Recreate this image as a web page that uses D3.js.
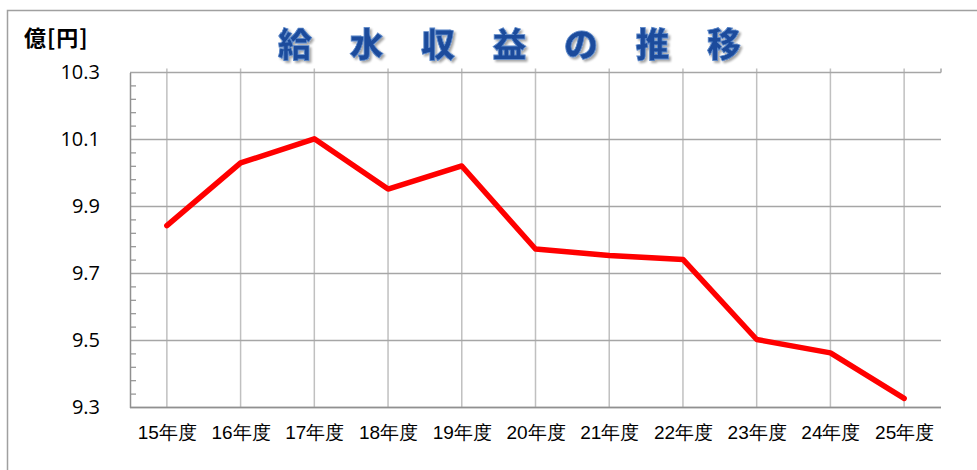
<!DOCTYPE html>
<html>
<head>
<meta charset="utf-8">
<script src="https://cdn.jsdelivr.net/npm/d3@7"></script>
<style>
  body { margin: 0; background: #fff; }
  svg { display: block; font-family: "Noto Sans CJK JP", "Noto Sans", sans-serif; }
</style>
</head>
<body>
<svg id="chart" width="977" height="470"></svg>
<script>
// data
const years = ["15年度", "16年度", "17年度", "18年度", "19年度", "20年度",
               "21年度", "22年度", "23年度", "24年度", "25年度"];
const revenue = [9.843, 10.030, 10.102, 9.952, 10.021, 9.773,
                 9.754, 9.742, 9.503, 9.463, 9.327];
const yTicks = [9.3, 9.5, 9.7, 9.9, 10.1, 10.3];
const titleChars = ["給", "水", "収", "益", "の", "推", "移"];

const width = 977, height = 470;
const margin = {top: 72.5, right: 36, bottom: 62.5, left: 130};

const svg = d3.select("#chart");

// outer frame
svg.append("path")
    .attr("d", "M7.5," + height + "V10.5H" + width)
    .attr("fill", "none")
    .attr("stroke", "#a0a0a0")
    .attr("stroke-width", 1.5);

const x = d3.scalePoint()
    .domain(years)
    .range([margin.left, width - margin.right])
    .padding(0.5);

const y = d3.scaleLinear()
    .domain([9.3, 10.3])
    .range([height - margin.bottom, margin.top]);

// vertical gridlines (poke a bit above the top)
svg.append("g")
    .selectAll("line")
    .data(years)
    .enter().append("line")
    .attr("x1", d => x(d)).attr("x2", d => x(d))
    .attr("y1", margin.top - 4).attr("y2", height - margin.bottom)
    .attr("stroke", "#c0c0c0")
    .attr("stroke-width", 1.5);

// horizontal gridlines
svg.append("g")
    .selectAll("line")
    .data(yTicks)
    .enter().append("line")
    .attr("x1", margin.left).attr("x2", width - margin.right)
    .attr("y1", d => y(d)).attr("y2", d => y(d))
    .attr("stroke", "#a6a6a6")
    .attr("stroke-width", 1.5);

// right end tick of top line
svg.append("line")
    .attr("x1", width - margin.right).attr("x2", width - margin.right)
    .attr("y1", margin.top - 4).attr("y2", margin.top)
    .attr("stroke", "#a6a6a6").attr("stroke-width", 1.5);

// minor ticks on the y axis, pointing inward
const minor = d3.range(9.3, 10.3001, 0.04).filter(v => !yTicks.some(t => Math.abs(t - v) < 1e-6));
svg.append("g")
    .selectAll("line")
    .data(minor)
    .enter().append("line")
    .attr("x1", margin.left).attr("x2", margin.left + 6)
    .attr("y1", d => y(d)).attr("y2", d => y(d))
    .attr("stroke", "#909090")
    .attr("stroke-width", 1.2);

// y axis
const yAxis = svg.append("g")
    .attr("transform", "translate(" + margin.left + ",0)")
    .call(d3.axisLeft(y).tickValues(yTicks).tickFormat(d3.format(".1f")).tickSize(0).tickPadding(30));
yAxis.select(".domain").attr("stroke", "#909090").attr("stroke-width", 1.5);
yAxis.selectAll("text").attr("font-size", 20).attr("fill", "#000")
    .attr("font-family", "'Open Sans', 'Noto Sans', sans-serif");

// x axis
const xAxis = svg.append("g")
    .attr("transform", "translate(0," + (height - margin.bottom) + ")")
    .call(d3.axisBottom(x).tickSize(0).tickPadding(18));
xAxis.select(".domain").attr("stroke", "#909090").attr("stroke-width", 1.5)
    .attr("d", "M" + margin.left + ",0H" + (width - margin.right));
xAxis.selectAll("text").attr("font-size", 19).attr("fill", "#000");

// line
const line = d3.line()
    .x((d, i) => x(years[i]))
    .y(d => y(d));

svg.append("path")
    .datum(revenue)
    .attr("d", line)
    .attr("fill", "none")
    .attr("stroke", "#ff0000")
    .attr("stroke-width", 5.5)
    .attr("stroke-linejoin", "round")
    .attr("stroke-linecap", "round");

// unit label
svg.append("text")
    .attr("x", 24).attr("y", 46)
    .attr("font-size", 22)
    .attr("font-weight", "bold")
    .attr("letter-spacing", 1)
    .text("億[円]");

// title with a soft shadow
const defs = svg.append("defs");
const f = defs.append("filter").attr("id", "shadow")
    .attr("x", "-20%").attr("y", "-20%").attr("width", "150%").attr("height", "150%");
f.append("feDropShadow")
    .attr("dx", 2).attr("dy", 2).attr("stdDeviation", 1.2)
    .attr("flood-color", "#000").attr("flood-opacity", 0.35);

svg.append("g")
    .attr("filter", "url(#shadow)")
    .selectAll("text")
    .data(titleChars)
    .enter().append("text")
    .attr("x", (d, i) => 295 + i * 71.5)
    .attr("y", 57)
    .attr("text-anchor", "middle")
    .attr("font-size", 34)
    .attr("font-weight", "900")
    .attr("fill", "#1b4c9c")
    .attr("stroke", "#5a86c8")
    .attr("stroke-width", 0.8)
    .text(d => d);
</script>
</body>
</html>
